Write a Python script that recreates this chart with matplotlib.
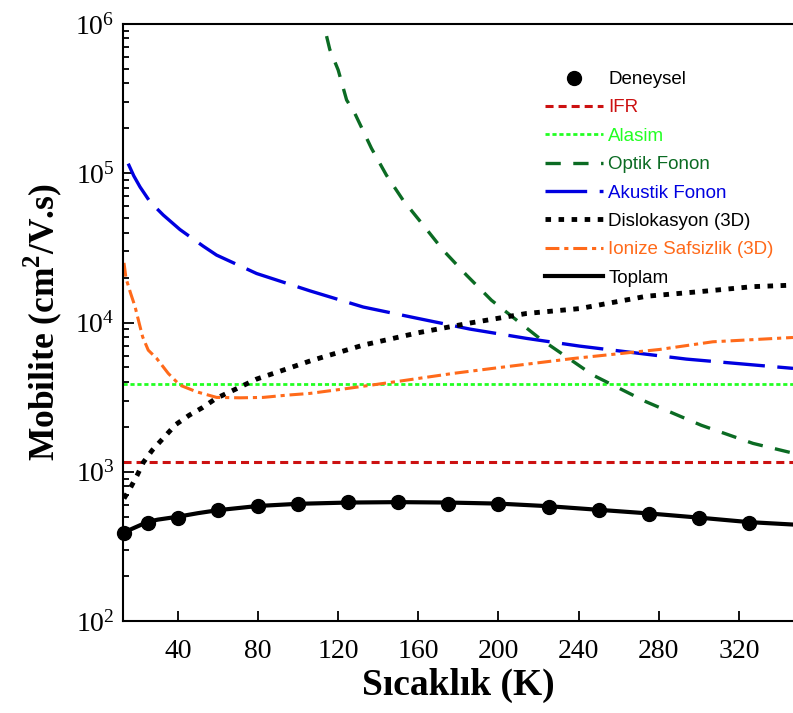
import matplotlib
matplotlib.use("Agg")
import matplotlib.pyplot as plt
from matplotlib.ticker import LogLocator, LogFormatterMathtext, NullFormatter

plt.rcParams["mathtext.fontset"] = "custom"
plt.rcParams["mathtext.rm"] = "Liberation Serif"
plt.rcParams["mathtext.bf"] = "Liberation Serif:bold"
plt.rcParams["lines.scale_dashes"] = False

# values
den_T = [13, 25, 40, 60, 80, 100, 125, 150, 175, 200, 225, 250, 275, 300, 325]
den_mu = [390, 455, 489, 553, 591, 610, 628, 628, 607, 607, 582, 553, 525, 491, 457]

ifr_T = [12.6, 347]
ifr_mu = [1160, 1160]

alasim_T = [12.6, 347]
alasim_mu = [3880, 3880]

optik_T = [114.2, 115.8, 120.0, 124.2, 128.3, 136.6, 144.1, 152.4, 162.4, 172.4, 184, 196.5,
           220.6, 247.2, 273.8, 301.2, 327, 347]
optik_mu = [8.3e5, 6.76e5, 4.92e5, 3.1e5, 2.52e5, 1.47e5, 9.7e4, 6.6e4, 4.5e4, 3.05e4, 2.08e4, 1.41e4,
            7820, 4440, 2940, 2050, 1550, 1333]

akustik_T = [15.2, 18.0, 21.1, 26.1, 32.7, 41.0, 52.6, 59.3, 79.3, 105.9, 132.5, 159.1, 185.7,
             214, 240.5, 293.7, 347]
akustik_mu = [1.16e5, 9.6e4, 8.1e4, 6.44e4, 5.25e4, 4.2e4, 3.25e4, 2.83e4, 2.13e4, 1.63e4, 1.27e4,
              1.07e4, 9040, 7830, 6950, 5690, 4930]

dislok_T = [13.1, 16.4, 19.7, 22.7, 27.2, 33.0, 39.0, 45.7, 52.4, 59.0, 66.0, 79.3, 92.6, 106.2,
            132.5, 159.9, 186.5, 214, 240.5, 273.8, 300.4, 327, 347]
dislok_mu = [662, 785, 949, 1154, 1395, 1697, 2075, 2395, 2697, 3100, 3432, 4180, 4800, 5540,
             7060, 8540, 9960, 11500, 12400, 15000, 16100, 17400, 17800]

ionize_T = [13.1, 14.1, 16.4, 18.6, 20.7, 22.4, 25.2, 29.4, 35.2, 41.0, 49.4, 59.3, 71.0, 82.6,
            94.2, 105.9, 124.2, 150.8, 177.3, 200.8, 237.2, 280.4, 307.0, 347]
ionize_mu = [25100, 19800, 15700, 12800, 9870, 8020, 6530, 5750, 4560, 3805, 3433, 3150, 3130, 3150,
             3260, 3350, 3610, 4050, 4560, 5000, 5740, 6600, 7430, 7940]

toplam_T = [12.6, 18, 25, 30, 40, 50, 60, 80, 100, 125, 150, 175, 200, 225, 250, 275, 300, 325, 347]
toplam_mu = [390, 420, 462, 478, 500, 528, 553, 590, 610, 622, 626, 622, 612, 588, 556, 526, 493, 460, 443]

fig = plt.figure(figsize=(7.93, 7.13), dpi=100)
ax = fig.add_axes([0.1551, 0.1290, 0.8449, 0.8373])

ax.plot(den_T, den_mu, "o", color="black", markersize=10, clip_on=False, zorder=5, label="Deneysel")
ax.plot(ifr_T, ifr_mu, color="#cc1111", lw=2.2, dashes=(5.8, 3.6), label="IFR")
ax.plot(alasim_T, alasim_mu, color="#22ff22", lw=2.0, dashes=(3, 2), label="Alasim")
ax.plot(optik_T, optik_mu, color="#0b6b23", lw=2.4, dashes=(11, 9), label="Optik Fonon")
ax.plot(akustik_T, akustik_mu, color="#0000e0", lw=2.4, dashes=(30, 9), label="Akustik Fonon")
ax.plot(dislok_T, dislok_mu, color="black", lw=3.5, dashes=(4, 5.4), solid_capstyle="butt",
        label="Dislokasyon (3D)")
ax.plot(ionize_T, ionize_mu, color="#ff6a1a", lw=2.2, dashes=(10, 3.5, 3, 3.5), label="Ionize Safsizlik (3D)")
ax.plot(toplam_T, toplam_mu, color="black", lw=3, label="Toplam")

ax.set_yscale("log")
ax.set_xlim(12.6, 347)
ax.set_ylim(1e2, 1e6)
ax.set_xticks([40, 80, 120, 160, 200, 240, 280, 320])
ax.yaxis.set_major_locator(LogLocator(base=10))
ax.yaxis.set_minor_locator(LogLocator(base=10, subs=range(2, 10)))
ax.yaxis.set_major_formatter(LogFormatterMathtext())
ax.yaxis.set_minor_formatter(NullFormatter())

for s in ["left", "bottom", "top"]:
    ax.spines[s].set_linewidth(1.5)
ax.spines["right"].set_visible(False)

ax.tick_params(axis="both", which="both", direction="in", width=1.3, top=False, right=False)
ax.tick_params(axis="y", which="major", length=8, pad=6, labelsize=20)
ax.tick_params(axis="y", which="minor", length=4.5)
ax.tick_params(axis="x", which="major", length=7, pad=13, labelsize=20)
for lab in ax.get_xticklabels() + ax.get_yticklabels():
    lab.set_fontfamily("Liberation Serif")

ax.set_xlabel("Sıcaklık (K)", fontsize=27, fontweight="bold", fontfamily="Liberation Serif", labelpad=3)
ax.set_ylabel(r"Mobilite (cm$^\mathbf{2}$/V.s)", fontsize=25.5, fontweight="bold",
              fontfamily="Liberation Serif", labelpad=8)

leg = ax.legend(loc="upper left", bbox_to_anchor=(545 / 793, 1 - 71 / 713), bbox_transform=fig.transFigure,
                frameon=False, borderpad=0, borderaxespad=0, handlelength=3.1, handletextpad=0.27,
                labelspacing=0.6, prop={"family": "Liberation Sans", "size": 13.5})
for txt, line in zip(leg.get_texts(), leg.get_lines()):
    c = line.get_color()
    txt.set_color(c)

fig.savefig("out.png", dpi=100)
